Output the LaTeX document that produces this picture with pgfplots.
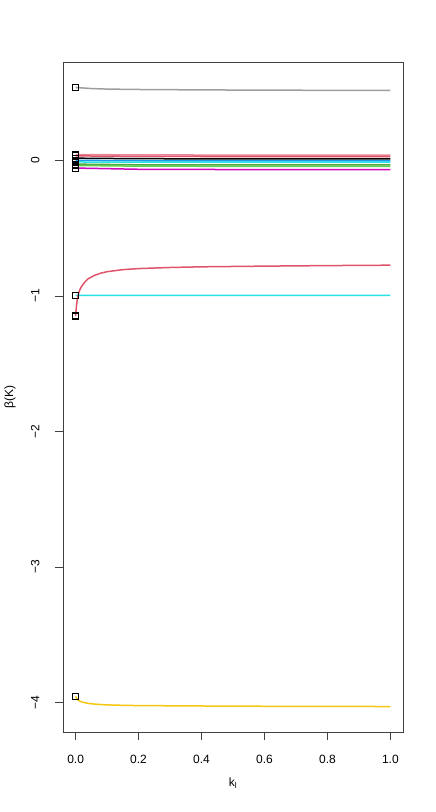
\documentclass[border=0pt]{standalone}
\usepackage{fontspec}
\setmainfont{Liberation Sans}
\usepackage{pgfplots}
\pgfplotsset{compat=1.18}
\definecolor{rblack}{HTML}{000000}
\definecolor{rred}{HTML}{DF536B}
\definecolor{rgreen}{HTML}{61D04F}
\definecolor{rblue}{HTML}{2297E6}
\definecolor{rcyan}{HTML}{28E2E5}
\definecolor{rmag}{HTML}{CD0BBC}
\definecolor{ryel}{HTML}{F5C710}
\definecolor{rgray}{HTML}{9E9E9E}
\begin{document}
\begin{tikzpicture}
\useasboundingbox (-63bp,-80bp) rectangle (373bp,732bp);
\begin{axis}[
  at={(0,0)}, anchor=south west,
  scale only axis, width=340bp, height=670bp,
  xmin=-0.04, xmax=1.04, ymin=-4.218, ymax=0.728,
  xtick={0,0.2,0.4,0.6,0.8,1.0},
  xticklabels={0.0,0.2,0.4,0.6,0.8,1.0},
  ytick={-4,-3,-2,-1,0},
  yticklabels={−4,−3,−2,−1,0},
  xtick pos=left, ytick pos=left,
  tick align=outside, major tick length=8bp,
  axis line style={draw=black!75, line width=0.8bp},
  every tick/.style={black!75, line width=0.8bp},
  tick label style={font=\fontsize{12bp}{14bp}\selectfont},
  xticklabel shift=12bp,
  yticklabel shift=12bp,
  yticklabel style={rotate=90, anchor=south},
  /pgf/number format/assume math mode=true,
  xlabel={k\textsubscript{l}},
  ylabel={β(K)},
  label style={font=\fontsize{12bp}{14bp}\selectfont},
  xlabel style={at={(axis description cs:0.5,-0.076)}, anchor=center},
  ylabel style={at={(axis description cs:-0.156,0.5)}, anchor=center, rotate=0},
  clip=false,
]
\pgfplotsset{rl/.style={line width=1.5bp, mark=square, mark indices={1}, mark size=3bp, mark options={draw=black, fill=none, line width=1.1bp, solid}}}
\addplot[rgray, rl] coordinates {(0,0.540) (0.05,0.532) (0.1,0.528) (0.2,0.525) (0.4,0.522) (0.6,0.520) (0.8,0.519) (1.0,0.518)};
\addplot[rred!70, rl] coordinates {(0,0.045) (0.2,0.042) (0.5,0.041) (1.0,0.040)};
\addplot[rred, rl] coordinates {(0,0.035) (0.2,0.031) (0.5,0.030) (1.0,0.029)};
\addplot[rblack, rl] coordinates {(0,0.018) (0.2,0.014) (0.5,0.013) (1.0,0.013)};
\addplot[rblue, rl] coordinates {(0,0.002) (0.2,-0.001) (0.5,-0.002) (1.0,-0.002)};
\addplot[rcyan, rl] coordinates {(0,-0.010) (0.2,-0.012) (0.5,-0.012) (1.0,-0.012)};
\addplot[rgreen!80!black, rl] coordinates {(0,-0.026) (0.2,-0.031) (0.5,-0.032) (1.0,-0.032)};
\addplot[rgreen, rl] coordinates {(0,-0.036) (0.2,-0.041) (0.5,-0.042) (1.0,-0.042)};
\addplot[rmag, rl] coordinates {(0,-0.055) (0.2,-0.064) (0.5,-0.066) (1.0,-0.066)};
\addplot[rcyan, rl] coordinates {(0,-0.9945) (0.1,-0.9950) (0.3,-0.9952) (0.6,-0.9953) (1.0,-0.9954)};
\addplot[rred, rl] coordinates {(0,-1.147) (0.0025,-1.08) (0.005,-1.03) (0.01,-0.975) (0.015,-0.945) (0.02,-0.925) (0.03,-0.895) (0.04,-0.872) (0.06,-0.847) (0.08,-0.831) (0.1,-0.820) (0.15,-0.805) (0.2,-0.797) (0.3,-0.789) (0.4,-0.784) (0.6,-0.779) (0.8,-0.775) (1.0,-0.772)};
\addplot[ryel, rl] coordinates {(0,-3.956) (0.005,-3.975) (0.01,-3.986) (0.02,-3.997) (0.04,-4.007) (0.07,-4.014) (0.1,-4.018) (0.15,-4.021) (0.2,-4.023) (0.4,-4.026) (0.6,-4.028) (0.8,-4.029) (1.0,-4.030)};
\end{axis}
\draw[black!75, line width=0.8bp] (0,0) rectangle (340bp,670bp);
\end{tikzpicture}
\end{document}
